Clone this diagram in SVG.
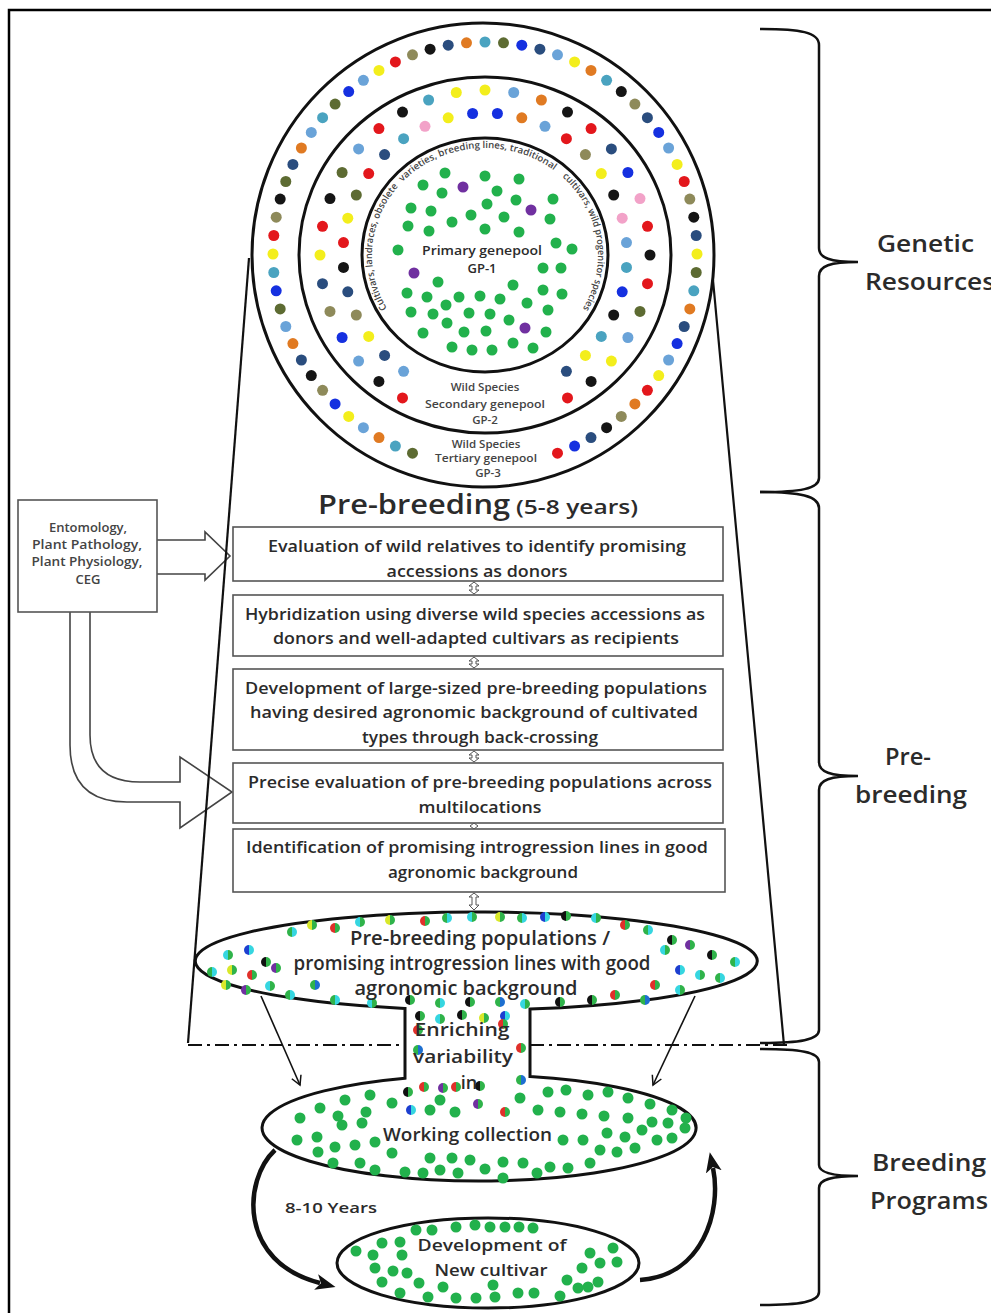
<svg xmlns="http://www.w3.org/2000/svg" width="991" height="1313" viewBox="0 0 991 1313">
<defs>
<style>
.tx{font-family:"Open Sans","Liberation Sans",sans-serif;font-weight:600;fill:#2b2b2b}
.tg{font-family:"Open Sans","Liberation Sans",sans-serif;font-weight:600;fill:#444}
.bx{fill:#fff;stroke:#555;stroke-width:1.6}
.ln{fill:none;stroke:#111;stroke-width:2.2}
.ring{fill:none;stroke:#111;stroke-width:3}
.br{fill:none;stroke:#111;stroke-width:2.5}
.ha{fill:#fff;stroke:#444;stroke-width:1.6}
.sm{fill:#fff;stroke:#555;stroke-width:1}
.r{fill:#e3171c}.n{fill:#2a4d7e}.y{fill:#f3ee1c}.lb{fill:#6aa3d8}.k{fill:#151515}.o{fill:#5d6b32}
.b{fill:#1530e0}.or{fill:#e07a22}.t{fill:#4aa3c0}.kh{fill:#8e8a5a}.p{fill:#f2a2c8}.g{fill:#22b14c}.pu{fill:#7030a0}
</style>
<linearGradient id="h1"><stop offset="0.5" stop-color="#2fb34a"/><stop offset="0.5" stop-color="#36d6e0"/></linearGradient>
<linearGradient id="h2"><stop offset="0.5" stop-color="#e0302a"/><stop offset="0.5" stop-color="#2fb34a"/></linearGradient>
<linearGradient id="h3"><stop offset="0.5" stop-color="#111"/><stop offset="0.5" stop-color="#2fb34a"/></linearGradient>
<linearGradient id="h4"><stop offset="0.5" stop-color="#1d3fd0"/><stop offset="0.5" stop-color="#36d6e0"/></linearGradient>
<linearGradient id="h5"><stop offset="0.5" stop-color="#d8e82a"/><stop offset="0.5" stop-color="#2fb34a"/></linearGradient>
<linearGradient id="h6"><stop offset="0.5" stop-color="#7030a0"/><stop offset="0.5" stop-color="#2fb34a"/></linearGradient>
<linearGradient id="h7"><stop offset="0.5" stop-color="#36d6e0"/><stop offset="0.5" stop-color="#2fb34a"/></linearGradient>
<linearGradient id="h8"><stop offset="0.5" stop-color="#2fb34a"/><stop offset="0.5" stop-color="#1d6fd0"/></linearGradient>
<marker id="ah" markerWidth="12" markerHeight="12" refX="10" refY="6" orient="auto" markerUnits="userSpaceOnUse"><path d="M1,1 L10,6 L1,11" fill="none" stroke="#111" stroke-width="1.5"/></marker>
<marker id="big" markerWidth="22" markerHeight="20" refX="4" refY="10" orient="auto" markerUnits="userSpaceOnUse"><path d="M0,2 L20,10 L0,18 L5,10 Z" fill="#111"/></marker>
<path id="arcA" d="M387.1,308.5 A113,107 0 0,1 400.4,184.1"/>
<path id="arcB" d="M400.4,184.1 A113,107 0 0,1 559.9,174.9"/>
<path id="arcC" d="M559.9,174.9 A113,107 0 0,1 582.9,308.5"/>
</defs>
<rect width="991" height="1313" fill="#fff"/>
<path d="M9,1313 L9,10 L991,10" fill="none" stroke="#000" stroke-width="2.5"/>

<!-- Genepool circles -->
<g id="genepool">
<ellipse class="ring" cx="483" cy="255" rx="231" ry="232" fill="#fff"/>
<ellipse class="ring" cx="485" cy="255" rx="186" ry="178"/>
<ellipse class="ring" cx="485" cy="255" rx="123" ry="117"/>
<g id="outer-dots">
<circle class="t" cx="485" cy="42" r="5.5"/><circle class="o" cx="503.5" cy="42.8" r="5.5"/><circle class="b" cx="521.8" cy="45.2" r="5.5"/><circle class="n" cx="539.9" cy="49.2" r="5.5"/><circle class="lb" cx="557.5" cy="54.8" r="5.5"/><circle class="y" cx="574.6" cy="61.9" r="5.5"/><circle class="or" cx="591" cy="70.4" r="5.5"/><circle class="t" cx="606.6" cy="80.3" r="5.5"/><circle class="k" cx="621.3" cy="91.6" r="5.5"/><circle class="kh" cx="634.9" cy="104.1" r="5.5"/><circle class="n" cx="647.4" cy="117.7" r="5.5"/><circle class="b" cx="658.7" cy="132.4" r="5.5"/><circle class="lb" cx="668.6" cy="148" r="5.5"/><circle class="y" cx="677.1" cy="164.4" r="5.5"/><circle class="r" cx="684.2" cy="181.5" r="5.5"/><circle class="kh" cx="689.8" cy="199.1" r="5.5"/><circle class="k" cx="693.8" cy="217.2" r="5.5"/><circle class="n" cx="696.2" cy="235.5" r="5.5"/><circle class="y" cx="697" cy="254" r="5.5"/><circle class="o" cx="696.2" cy="272.5" r="5.5"/><circle class="t" cx="693.8" cy="290.8" r="5.5"/><circle class="or" cx="689.8" cy="308.9" r="5.5"/><circle class="n" cx="684.2" cy="326.5" r="5.5"/><circle class="b" cx="677.1" cy="343.6" r="5.5"/><circle class="lb" cx="668.6" cy="360" r="5.5"/><circle class="y" cx="658.7" cy="375.6" r="5.5"/><circle class="r" cx="647.4" cy="390.3" r="5.5"/><circle class="or" cx="634.9" cy="403.9" r="5.5"/><circle class="kh" cx="621.3" cy="416.4" r="5.5"/><circle class="k" cx="606.6" cy="427.7" r="5.5"/><circle class="n" cx="591" cy="437.6" r="5.5"/><circle class="b" cx="574.6" cy="446.1" r="5.5"/><circle class="r" cx="557.5" cy="453.2" r="5.5"/>
<circle class="o" cx="412.5" cy="453.2" r="5.5"/><circle class="t" cx="395.4" cy="446.1" r="5.5"/><circle class="or" cx="379" cy="437.6" r="5.5"/><circle class="lb" cx="363.4" cy="427.7" r="5.5"/><circle class="y" cx="348.7" cy="416.4" r="5.5"/><circle class="b" cx="335.1" cy="403.9" r="5.5"/><circle class="kh" cx="322.6" cy="390.3" r="5.5"/><circle class="k" cx="311.3" cy="375.6" r="5.5"/><circle class="n" cx="301.4" cy="360" r="5.5"/><circle class="or" cx="292.9" cy="343.6" r="5.5"/><circle class="lb" cx="285.8" cy="326.5" r="5.5"/><circle class="o" cx="280.2" cy="308.9" r="5.5"/><circle class="b" cx="276.2" cy="290.8" r="5.5"/><circle class="t" cx="273.8" cy="272.5" r="5.5"/><circle class="y" cx="273" cy="254" r="5.5"/><circle class="r" cx="273.8" cy="235.5" r="5.5"/><circle class="kh" cx="276.2" cy="217.2" r="5.5"/><circle class="k" cx="280.2" cy="199.1" r="5.5"/><circle class="o" cx="285.8" cy="181.5" r="5.5"/><circle class="n" cx="292.9" cy="164.4" r="5.5"/><circle class="or" cx="301.4" cy="148" r="5.5"/><circle class="lb" cx="311.3" cy="132.4" r="5.5"/><circle class="t" cx="322.6" cy="117.7" r="5.5"/><circle class="o" cx="335.1" cy="104.1" r="5.5"/><circle class="b" cx="348.7" cy="91.6" r="5.5"/><circle class="lb" cx="363.4" cy="80.3" r="5.5"/><circle class="y" cx="379" cy="70.4" r="5.5"/><circle class="r" cx="395.4" cy="61.9" r="5.5"/><circle class="kh" cx="412.5" cy="54.8" r="5.5"/><circle class="k" cx="430.1" cy="49.2" r="5.5"/><circle class="n" cx="448.2" cy="45.2" r="5.5"/><circle class="or" cx="466.5" cy="42.8" r="5.5"/>
</g>
<g id="middle-dots">
<circle class="y" cx="485" cy="90" r="5.5"/><circle class="lb" cx="513.7" cy="92.5" r="5.5"/><circle class="or" cx="541.4" cy="100" r="5.5"/><circle class="k" cx="567.5" cy="112.1" r="5.5"/><circle class="r" cx="591.1" cy="128.6" r="5.5"/><circle class="n" cx="611.4" cy="148.9" r="5.5"/><circle class="b" cx="627.9" cy="172.5" r="5.5"/><circle class="p" cx="640" cy="198.6" r="5.5"/><circle class="r" cx="647.5" cy="226.3" r="5.5"/><circle class="k" cx="650" cy="255" r="5.5"/><circle class="r" cx="647.5" cy="283.7" r="5.5"/><circle class="o" cx="640" cy="311.4" r="5.5"/><circle class="lb" cx="627.9" cy="337.5" r="5.5"/><circle class="y" cx="611.4" cy="361.1" r="5.5"/><circle class="k" cx="591.1" cy="381.4" r="5.5"/><circle class="r" cx="567.5" cy="397.9" r="5.5"/>
<circle class="r" cx="402.5" cy="397.9" r="5.5"/><circle class="k" cx="378.9" cy="381.4" r="5.5"/><circle class="lb" cx="358.6" cy="361.1" r="5.5"/><circle class="b" cx="342.1" cy="337.5" r="5.5"/><circle class="kh" cx="330" cy="311.4" r="5.5"/><circle class="n" cx="322.5" cy="283.7" r="5.5"/><circle class="y" cx="320" cy="255" r="5.5"/><circle class="r" cx="322.5" cy="226.3" r="5.5"/><circle class="k" cx="330" cy="198.6" r="5.5"/><circle class="o" cx="342.1" cy="172.5" r="5.5"/><circle class="lb" cx="358.6" cy="148.9" r="5.5"/><circle class="r" cx="378.9" cy="128.6" r="5.5"/><circle class="k" cx="402.5" cy="112.1" r="5.5"/><circle class="t" cx="428.6" cy="100" r="5.5"/><circle class="y" cx="456.3" cy="92.5" r="5.5"/>
<circle class="b" cx="497.4" cy="113.5" r="5.5"/><circle class="or" cx="521.8" cy="117.8" r="5.5"/><circle class="lb" cx="545" cy="126.3" r="5.5"/><circle class="r" cx="566.4" cy="138.7" r="5.5"/><circle class="kh" cx="585.4" cy="154.6" r="5.5"/><circle class="y" cx="601.3" cy="173.6" r="5.5"/><circle class="k" cx="613.7" cy="195" r="5.5"/><circle class="p" cx="622.2" cy="218.2" r="5.5"/><circle class="lb" cx="626.5" cy="242.6" r="5.5"/><circle class="t" cx="626.5" cy="267.4" r="5.5"/><circle class="b" cx="622.2" cy="291.8" r="5.5"/><circle class="k" cx="613.7" cy="315" r="5.5"/><circle class="t" cx="601.3" cy="336.4" r="5.5"/><circle class="y" cx="585.4" cy="355.4" r="5.5"/><circle class="n" cx="566.4" cy="371.3" r="5.5"/>
<circle class="lb" cx="403.6" cy="371.3" r="5.5"/><circle class="n" cx="384.6" cy="355.4" r="5.5"/><circle class="y" cx="368.7" cy="336.4" r="5.5"/><circle class="kh" cx="356.3" cy="315" r="5.5"/><circle class="n" cx="347.8" cy="291.8" r="5.5"/><circle class="k" cx="343.5" cy="267.4" r="5.5"/><circle class="r" cx="343.5" cy="242.6" r="5.5"/><circle class="y" cx="347.8" cy="218.2" r="5.5"/><circle class="o" cx="356.3" cy="195" r="5.5"/><circle class="r" cx="368.7" cy="173.6" r="5.5"/><circle class="n" cx="384.6" cy="154.6" r="5.5"/><circle class="t" cx="403.6" cy="138.7" r="5.5"/><circle class="p" cx="425" cy="126.3" r="5.5"/><circle class="y" cx="448.2" cy="117.8" r="5.5"/><circle class="b" cx="472.6" cy="113.5" r="5.5"/>
</g>
<g id="inner-dots" class="g">
<circle cx="445" cy="173" r="5.5"/><circle cx="485" cy="176" r="5.5"/><circle cx="519" cy="179" r="5.5"/><circle cx="423" cy="185" r="5.5"/><circle class="pu" cx="463" cy="187" r="5.5"/><circle cx="442" cy="193" r="5.5"/><circle cx="497" cy="191" r="5.5"/><circle cx="516" cy="200" r="5.5"/><circle cx="553" cy="199" r="5.5"/><circle class="pu" cx="531" cy="210" r="5.5"/><circle cx="411" cy="208" r="5.5"/><circle cx="431" cy="211" r="5.5"/><circle cx="487" cy="204" r="5.5"/><circle cx="471" cy="215" r="5.5"/><circle cx="504" cy="217" r="5.5"/><circle cx="550" cy="219" r="5.5"/><circle cx="408" cy="226" r="5.5"/><circle cx="452" cy="222" r="5.5"/><circle cx="429" cy="231" r="5.5"/><circle cx="485" cy="229" r="5.5"/><circle cx="519" cy="232" r="5.5"/><circle cx="556" cy="243" r="5.5"/><circle cx="398" cy="250" r="5.5"/><circle cx="572" cy="249" r="5.5"/><circle class="pu" cx="414" cy="273" r="5.5"/><circle cx="543" cy="268" r="5.5"/><circle cx="561" cy="268" r="5.5"/><circle cx="438" cy="282" r="5.5"/><circle cx="513" cy="285" r="5.5"/><circle cx="543" cy="290" r="5.5"/><circle cx="562" cy="294" r="5.5"/><circle cx="407" cy="293" r="5.5"/><circle cx="427" cy="297" r="5.5"/><circle cx="459" cy="297" r="5.5"/><circle cx="480" cy="296" r="5.5"/><circle cx="500" cy="299" r="5.5"/><circle cx="527" cy="303" r="5.5"/><circle cx="446" cy="305" r="5.5"/><circle cx="411" cy="312" r="5.5"/><circle cx="433" cy="314" r="5.5"/><circle cx="469" cy="313" r="5.5"/><circle cx="490" cy="314" r="5.5"/><circle cx="548" cy="310" r="5.5"/><circle cx="509" cy="320" r="5.5"/><circle cx="447" cy="323" r="5.5"/><circle class="pu" cx="525" cy="328" r="5.5"/><circle cx="546" cy="332" r="5.5"/><circle cx="423" cy="333" r="5.5"/><circle cx="464" cy="332" r="5.5"/><circle cx="486" cy="331" r="5.5"/><circle cx="452" cy="347" r="5.5"/><circle cx="472" cy="350" r="5.5"/><circle cx="492" cy="350" r="5.5"/><circle cx="513" cy="343" r="5.5"/><circle cx="533" cy="348" r="5.5"/>
</g>
<text class="tg" font-size="9.5" fill="#333"><textPath href="#arcA" textLength="131" lengthAdjust="spacingAndGlyphs">Cultivars, landraces, obsolete</textPath></text>
<text class="tg" font-size="9.5" fill="#333"><textPath href="#arcB" startOffset="3" textLength="165" lengthAdjust="spacingAndGlyphs">varieties, breeding lines, traditional</textPath></text>
<text class="tg" font-size="9.5" fill="#333"><textPath href="#arcC" startOffset="3" textLength="145" lengthAdjust="spacingAndGlyphs">cultivars, wild progenitor species</textPath></text>
<text class="tx" font-size="13" text-anchor="middle"><tspan x="482" y="255" textLength="120" lengthAdjust="spacingAndGlyphs">Primary genepool</tspan><tspan x="482" y="273">GP-1</tspan></text>
<text class="tg" font-size="11.5" text-anchor="middle"><tspan x="485" y="391">Wild  Species</tspan><tspan x="485" y="408" textLength="120" lengthAdjust="spacingAndGlyphs">Secondary genepool</tspan><tspan x="485" y="424">GP-2</tspan></text>
<text class="tg" font-size="11.5" text-anchor="middle"><tspan x="486" y="448">Wild  Species</tspan><tspan x="486" y="462" textLength="102" lengthAdjust="spacingAndGlyphs">Tertiary  genepool</tspan><tspan x="488" y="477">GP-3</tspan></text>
</g>

<!-- Title -->
<text class="tx" font-size="27" x="318" y="514" textLength="192" lengthAdjust="spacingAndGlyphs">Pre-breeding</text>
<text class="tx" font-size="19" x="516" y="514" textLength="122" lengthAdjust="spacingAndGlyphs">(5-8 years)</text>

<!-- Connectors -->
<g id="connectors">
<path class="ha" d="M157,540 L205,540 L205,532 L230,556 L205,580 L205,574 L157,574"/>
<path class="ha" d="M70,612 L70,745 Q70,802 127,802 L180,802 L180,828 L232,792 L180,757 L180,782 L140,782 Q90,782 90,735 L90,612"/>
<path class="ln" d="M249,258 L188,1043"/>
<path class="ln" d="M713,280 L784,1045"/>
<path d="M188,1045 L405,1045 M530,1045 L790,1045" fill="none" stroke="#111" stroke-width="2" stroke-dasharray="14 5 3 5"/>
<path class="sm" d="M474,582 L479,586 L476,586 L476,590 L479,590 L474,594 L469,590 L472,590 L472,586 L469,586 Z"/>
<path class="sm" d="M474,657 L479,661 L476,661 L476,664 L479,664 L474,668 L469,664 L472,664 L472,661 L469,661 Z"/>
<path class="sm" d="M474,751 L479,755 L476,755 L476,758 L479,758 L474,762 L469,758 L472,758 L472,755 L469,755 Z"/>
<path class="sm" d="M474,823 L478,826 L474,829 L470,826 Z"/>
<path class="sm" d="M474,893 L479,897 L476,897 L476,905 L479,905 L474,910 L469,905 L472,905 L472,897 L469,897 Z"/>
<path d="M261,996 L300,1085" fill="none" stroke="#111" stroke-width="1.6" marker-end="url(#ah)"/>
<path d="M695,996 L653,1085" fill="none" stroke="#111" stroke-width="1.6" marker-end="url(#ah)"/>
<path d="M275,1150 C243,1180 238,1262 320,1283" fill="none" stroke="#111" stroke-width="4.5" marker-end="url(#big)"/>
<path d="M640,1280 C702,1276 722,1212 713,1168" fill="none" stroke="#111" stroke-width="4.5" marker-end="url(#big)"/>
</g>

<!-- Left source box -->
<g id="disciplines">
<rect class="bx" x="18" y="500" width="139" height="112"/>
<text class="tg" font-size="13" text-anchor="middle"><tspan x="88" y="532">Entomology,</tspan><tspan x="87" y="549" textLength="110" lengthAdjust="spacingAndGlyphs">Plant Pathology,</tspan><tspan x="87" y="566" textLength="111" lengthAdjust="spacingAndGlyphs">Plant Physiology,</tspan><tspan x="88" y="584">CEG</tspan></text>
</g>

<!-- Step boxes -->
<g id="step1"><rect class="bx" x="233" y="527" width="490" height="54"/>
<text class="tx" font-size="17" text-anchor="middle"><tspan x="477" y="552" textLength="418" lengthAdjust="spacingAndGlyphs">Evaluation of wild relatives to identify promising</tspan><tspan x="477" y="577" textLength="181" lengthAdjust="spacingAndGlyphs">accessions as donors</tspan></text></g>
<g id="step2"><rect class="bx" x="233" y="595" width="490" height="61"/>
<text class="tx" font-size="17" text-anchor="middle"><tspan x="475" y="620" textLength="460" lengthAdjust="spacingAndGlyphs">Hybridization using diverse wild species accessions as</tspan><tspan x="476" y="644" textLength="406" lengthAdjust="spacingAndGlyphs">donors and well-adapted cultivars as recipients</tspan></text></g>
<g id="step3"><rect class="bx" x="233" y="669" width="490" height="81"/>
<text class="tx" font-size="17" text-anchor="middle"><tspan x="476" y="694" textLength="462" lengthAdjust="spacingAndGlyphs">Development of large-sized pre-breeding populations</tspan><tspan x="474" y="718" textLength="448" lengthAdjust="spacingAndGlyphs">having desired agronomic background of cultivated</tspan><tspan x="480" y="743" textLength="236" lengthAdjust="spacingAndGlyphs">types through back-crossing</tspan></text></g>
<g id="step4"><rect class="bx" x="233" y="763" width="490" height="60"/>
<text class="tx" font-size="17" text-anchor="middle"><tspan x="480" y="788" textLength="464" lengthAdjust="spacingAndGlyphs">Precise evaluation of pre-breeding populations across</tspan><tspan x="480" y="813" textLength="123" lengthAdjust="spacingAndGlyphs">multilocations</tspan></text></g>
<g id="step5"><rect class="bx" x="233" y="829" width="492" height="63"/>
<text class="tx" font-size="17" text-anchor="middle"><tspan x="477" y="853" textLength="462" lengthAdjust="spacingAndGlyphs">Identification of promising introgression lines in good</tspan><tspan x="483" y="878" textLength="190" lengthAdjust="spacingAndGlyphs">agronomic background</tspan></text></g>

<!-- Funnel: pre-breeding populations / working collection -->
<g id="funnel">
<path d="M405,1008.4 A281,49 0 1,1 530,1009.1 L530,1076.5 A217,53 0 1,1 405,1078.2 Z" fill="#fff" stroke="#111" stroke-width="3"/>
<g id="prebreeding-dots">
<circle fill="url(#h1)" cx="292" cy="932" r="5"/><circle fill="url(#h5)" cx="312" cy="925" r="5"/><circle fill="url(#h2)" cx="335" cy="928" r="5"/><circle fill="url(#h7)" cx="360" cy="922" r="5"/><circle fill="url(#h5)" cx="390" cy="920" r="5"/><circle fill="url(#h2)" cx="425" cy="921" r="5"/><circle fill="url(#h1)" cx="447" cy="918" r="5"/><circle fill="url(#h7)" cx="472" cy="917" r="5"/><circle fill="url(#h5)" cx="500" cy="917" r="5"/><circle fill="url(#h1)" cx="522" cy="918" r="5"/><circle fill="url(#h4)" cx="545" cy="917" r="5"/><circle fill="url(#h3)" cx="566" cy="916" r="5"/><circle fill="url(#h7)" cx="596" cy="918" r="5"/><circle fill="url(#h2)" cx="625" cy="925" r="5"/><circle fill="url(#h1)" cx="648" cy="930" r="5"/><circle fill="url(#h3)" cx="672" cy="940" r="5"/>
<circle fill="url(#h7)" cx="228" cy="955" r="5"/><circle fill="url(#h4)" cx="249" cy="950" r="5"/><circle fill="url(#h3)" cx="266" cy="962" r="5"/><circle fill="url(#h1)" cx="212" cy="972" r="5"/><circle fill="url(#h5)" cx="232" cy="970" r="5"/><circle fill="url(#h2)" cx="252" cy="975" r="5"/><circle fill="url(#h6)" cx="276" cy="968" r="5"/><circle fill="url(#h5)" cx="226" cy="985" r="5"/><circle fill="url(#h6)" cx="246" cy="990" r="5"/><circle fill="url(#h7)" cx="270" cy="986" r="5"/><circle fill="url(#h1)" cx="290" cy="995" r="5"/><circle fill="url(#h8)" cx="315" cy="985" r="5"/>
<circle fill="url(#h7)" cx="665" cy="950" r="5"/><circle fill="url(#h6)" cx="690" cy="945" r="5"/><circle fill="url(#h3)" cx="712" cy="955" r="5"/><circle fill="url(#h1)" cx="735" cy="962" r="5"/><circle fill="url(#h4)" cx="680" cy="970" r="5"/><circle fill="url(#h7)" cx="700" cy="975" r="5"/><circle fill="url(#h1)" cx="720" cy="978" r="5"/><circle fill="url(#h2)" cx="655" cy="985" r="5"/><circle fill="url(#h7)" cx="680" cy="990" r="5"/><circle fill="url(#h8)" cx="645" cy="1000" r="5"/><circle fill="url(#h2)" cx="615" cy="995" r="5"/><circle fill="url(#h3)" cx="592" cy="1000" r="5"/>
<circle fill="url(#h1)" cx="335" cy="1000" r="5"/><circle fill="url(#h7)" cx="372" cy="1003" r="5"/><circle fill="url(#h3)" cx="410" cy="1000" r="5"/><circle fill="url(#h1)" cx="440" cy="1003" r="5"/><circle fill="url(#h3)" cx="470" cy="1002" r="5"/><circle fill="url(#h8)" cx="500" cy="1002" r="5"/><circle fill="url(#h7)" cx="525" cy="1004" r="5"/><circle fill="url(#h3)" cx="560" cy="1002" r="5"/>
<circle fill="url(#h3)" cx="420" cy="1016" r="5"/><circle fill="url(#h7)" cx="440" cy="1019" r="5"/><circle fill="url(#h3)" cx="462" cy="1015" r="5"/><circle fill="url(#h5)" cx="484" cy="1018" r="5"/><circle fill="url(#h4)" cx="505" cy="1016" r="5"/><circle fill="url(#h2)" cx="418" cy="1030" r="5"/><circle fill="url(#h2)" cx="503" cy="1024" r="5"/><circle fill="url(#h8)" cx="418" cy="1050" r="5"/><circle fill="url(#h2)" cx="521" cy="1048" r="5"/><circle fill="url(#h8)" cx="521" cy="1080" r="5"/>
</g>
<g id="working-dots" class="g">
<circle fill="url(#h3)" cx="408" cy="1092" r="5"/><circle fill="url(#h2)" cx="424" cy="1087" r="5"/><circle fill="url(#h6)" cx="443" cy="1088" r="5"/><circle fill="url(#h2)" cx="456" cy="1087" r="5"/><circle fill="url(#h3)" cx="480" cy="1086" r="5"/><circle fill="url(#h4)" cx="411" cy="1110" r="5"/><circle fill="url(#h6)" cx="478" cy="1104" r="5"/><circle fill="url(#h2)" cx="505" cy="1112" r="5"/>
<circle cx="345" cy="1100" r="5.5"/><circle cx="370" cy="1095" r="5.5"/><circle cx="320" cy="1108" r="5.5"/><circle cx="300" cy="1118" r="5.5"/><circle cx="338" cy="1116" r="5.5"/><circle cx="366" cy="1112" r="5.5"/><circle cx="392" cy="1103" r="5.5"/><circle cx="430" cy="1110" r="5.5"/><circle cx="455" cy="1112" r="5.5"/><circle cx="440" cy="1100" r="5.5"/>
<circle cx="548" cy="1092" r="5.5"/><circle cx="566" cy="1090" r="5.5"/><circle cx="588" cy="1095" r="5.5"/><circle cx="608" cy="1092" r="5.5"/><circle cx="628" cy="1098" r="5.5"/><circle cx="650" cy="1104" r="5.5"/><circle cx="672" cy="1110" r="5.5"/><circle cx="686" cy="1118" r="5.5"/><circle cx="538" cy="1110" r="5.5"/><circle cx="560" cy="1112" r="5.5"/><circle cx="582" cy="1114" r="5.5"/><circle cx="604" cy="1116" r="5.5"/><circle cx="628" cy="1118" r="5.5"/><circle cx="652" cy="1122" r="5.5"/><circle cx="520" cy="1098" r="5.5"/>
<circle cx="297" cy="1140" r="5.5"/><circle cx="317" cy="1137" r="5.5"/><circle cx="342" cy="1125" r="5.5"/><circle cx="362" cy="1123" r="5.5"/><circle cx="318" cy="1152" r="5.5"/><circle cx="335" cy="1147" r="5.5"/><circle cx="355" cy="1145" r="5.5"/><circle cx="375" cy="1142" r="5.5"/><circle cx="392" cy="1153" r="5.5"/><circle cx="333" cy="1163" r="5.5"/><circle cx="360" cy="1163" r="5.5"/><circle cx="375" cy="1170" r="5.5"/><circle cx="405" cy="1172" r="5.5"/><circle cx="423" cy="1173" r="5.5"/><circle cx="430" cy="1158" r="5.5"/><circle cx="440" cy="1170" r="5.5"/><circle cx="452" cy="1158" r="5.5"/><circle cx="458" cy="1173" r="5.5"/><circle cx="470" cy="1160" r="5.5"/><circle cx="485" cy="1169" r="5.5"/><circle cx="503" cy="1162" r="5.5"/><circle cx="503" cy="1178" r="5.5"/><circle cx="523" cy="1163" r="5.5"/><circle cx="537" cy="1173" r="5.5"/><circle cx="550" cy="1167" r="5.5"/><circle cx="568" cy="1168" r="5.5"/><circle cx="590" cy="1163" r="5.5"/><circle cx="563" cy="1140" r="5.5"/><circle cx="583" cy="1140" r="5.5"/><circle cx="600" cy="1150" r="5.5"/><circle cx="607" cy="1133" r="5.5"/><circle cx="617" cy="1152" r="5.5"/><circle cx="625" cy="1137" r="5.5"/><circle cx="635" cy="1148" r="5.5"/><circle cx="642" cy="1130" r="5.5"/><circle cx="657" cy="1140" r="5.5"/><circle cx="672" cy="1138" r="5.5"/><circle cx="668" cy="1123" r="5.5"/><circle cx="685" cy="1128" r="5.5"/>
</g>
<text class="tx" font-size="19" text-anchor="middle"><tspan x="480" y="945" textLength="260" lengthAdjust="spacingAndGlyphs">Pre-breeding populations /</tspan><tspan x="472" y="970" textLength="357" lengthAdjust="spacingAndGlyphs">promising introgression lines with good</tspan><tspan x="466" y="995" textLength="223" lengthAdjust="spacingAndGlyphs">agronomic background</tspan></text>
<text class="tx" font-size="18" text-anchor="middle"><tspan x="462" y="1036" textLength="95" lengthAdjust="spacingAndGlyphs">Enriching</tspan><tspan x="463" y="1063" textLength="100" lengthAdjust="spacingAndGlyphs">variability</tspan><tspan x="469" y="1089">in</tspan></text>
<text class="tx" font-size="18" x="383" y="1141" textLength="169" lengthAdjust="spacingAndGlyphs">Working collection</text>
</g>

<!-- New cultivar -->
<g id="new-cultivar">
<ellipse cx="488" cy="1263" rx="151" ry="45" fill="#fff" stroke="#111" stroke-width="3"/>
<g class="g">
<circle cx="416" cy="1230" r="5.5"/><circle cx="432" cy="1230" r="5.5"/><circle cx="456" cy="1227" r="5.5"/><circle cx="475" cy="1225" r="5.5"/><circle cx="490" cy="1227" r="5.5"/><circle cx="505" cy="1227" r="5.5"/><circle cx="519" cy="1227" r="5.5"/><circle cx="533" cy="1228" r="5.5"/><circle cx="382" cy="1243" r="5.5"/><circle cx="400" cy="1242" r="5.5"/><circle cx="356" cy="1251" r="5.5"/><circle cx="373" cy="1255" r="5.5"/><circle cx="402" cy="1255" r="5.5"/><circle cx="375" cy="1268" r="5.5"/><circle cx="393" cy="1271" r="5.5"/><circle cx="407" cy="1273" r="5.5"/><circle cx="382" cy="1282" r="5.5"/><circle cx="400" cy="1293" r="5.5"/><circle cx="419" cy="1283" r="5.5"/><circle cx="428" cy="1297" r="5.5"/><circle cx="443" cy="1287" r="5.5"/><circle cx="456" cy="1298" r="5.5"/><circle cx="476" cy="1298" r="5.5"/><circle cx="493" cy="1285" r="5.5"/><circle cx="495" cy="1297" r="5.5"/><circle cx="518" cy="1293" r="5.5"/><circle cx="534" cy="1293" r="5.5"/><circle cx="560" cy="1296" r="5.5"/><circle cx="567" cy="1280" r="5.5"/><circle cx="578" cy="1288" r="5.5"/><circle cx="588" cy="1287" r="5.5"/><circle cx="598" cy="1282" r="5.5"/><circle cx="582" cy="1268" r="5.5"/><circle cx="600" cy="1263" r="5.5"/><circle cx="617" cy="1262" r="5.5"/><circle cx="590" cy="1253" r="5.5"/><circle cx="613" cy="1248" r="5.5"/>
</g>
<text class="tx" font-size="17" text-anchor="middle"><tspan x="492" y="1251" textLength="149" lengthAdjust="spacingAndGlyphs">Development of</tspan><tspan x="491" y="1276" textLength="113" lengthAdjust="spacingAndGlyphs">New cultivar</tspan></text>
</g>
<text class="tx" font-size="15" x="285" y="1213" textLength="92" lengthAdjust="spacingAndGlyphs">8-10 Years</text>

<!-- Braces -->
<g id="brace-genetic">
<path class="br" d="M760,29 C800,29 819,32 819,45 L819,248 C819,258 830,262 858,262 C830,262 819,266 819,276 L819,478 C819,489 800,492 760,492"/>
<text class="tx" font-size="23"><tspan x="877" y="252" textLength="97" lengthAdjust="spacingAndGlyphs">Genetic</tspan><tspan x="865" y="290" textLength="130" lengthAdjust="spacingAndGlyphs">Resources</tspan></text>
</g>
<g id="brace-prebreeding">
<path class="br" d="M760,492 C800,492 819,496 819,508 L819,762 C819,772 830,776 858,776 C830,776 819,780 819,790 L819,1030 C819,1040 800,1043 760,1043"/>
<text class="tx" font-size="23"><tspan x="885" y="765" textLength="46" lengthAdjust="spacingAndGlyphs">Pre-</tspan><tspan x="855" y="803" textLength="112" lengthAdjust="spacingAndGlyphs">breeding</tspan></text>
</g>
<g id="brace-breeding">
<path class="br" d="M760,1049 C800,1049 819,1052 819,1062 L819,1165 C819,1172 830,1176 858,1176 C830,1176 819,1180 819,1188 L819,1292 C819,1302 800,1305 760,1305"/>
<text class="tx" font-size="23"><tspan x="872" y="1171" textLength="114" lengthAdjust="spacingAndGlyphs">Breeding</tspan><tspan x="870" y="1209" textLength="118" lengthAdjust="spacingAndGlyphs">Programs</tspan></text>
</g>
</svg>
